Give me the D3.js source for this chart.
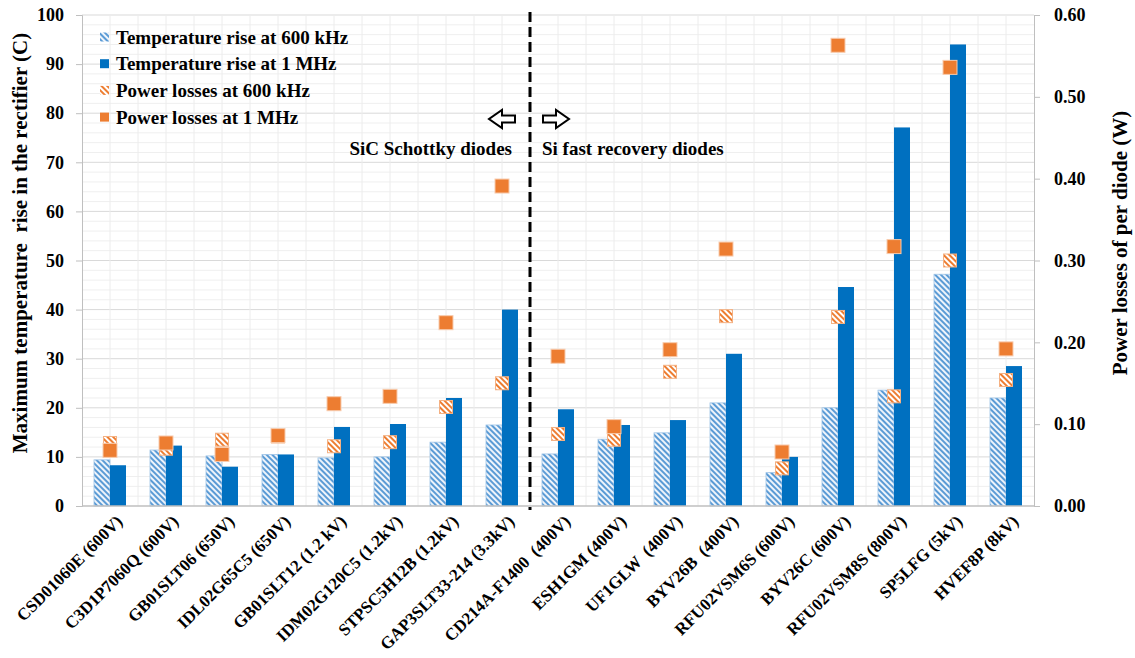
<!DOCTYPE html>
<html>
<head>
<meta charset="utf-8">
<script src="https://cdn.jsdelivr.net/npm/d3@7"></script>
<style>
  body { margin: 0; background: #fff; }
  text { font-family: "Times New Roman", "Liberation Serif", serif; font-weight: bold; fill: #000; }
</style>
</head>
<body>
<div id="chart"></div>
<script>
// data
const categories = ["CSD01060E (600V)", "C3D1P7060Q (600V)", "GB01SLT06 (650V)", "IDL02G65C5 (650V)",
    "GB01SLT12 (1.2 kV)", "IDM02G120C5 (1.2kV)", "STPSC5H12B (1.2kV)", "GAP3SLT33-214 (3.3kV)",
    "CD214A-F1400  (400V)", "ESH1GM (400V)", "UF1GLW  (400V)", "BYV26B  (400V)", "RFU02VSM6S (600V)",
    "BYV26C (600V)", "RFU02VSM8S (800V)", "SP5LFG (5kV)", "HVEF8P (8kV)"];
const temp600k = [9.4, 11.4, 10.2, 10.5, 9.8, 10.0, 13.0, 16.5, 10.6, 13.6, 14.9, 21.0, 6.8, 20.0, 23.6, 47.2, 22.0];
const temp1M = [8.3, 12.3, 8.0, 10.5, 16.1, 16.7, 22.0, 40.0, 19.7, 16.5, 17.5, 31.0, 10.0, 44.6, 77.1, 94.0, 28.5];
const loss600k = [0.077, 0.070, 0.081, 0.085, 0.073, 0.078, 0.121, 0.150, 0.088, 0.081, 0.164, 0.232, 0.046, 0.231, 0.134, 0.300, 0.154];
const loss1M = [0.068, 0.077, 0.063, 0.086, 0.125, 0.134, 0.224, 0.391, 0.183, 0.097, 0.191, 0.314, 0.066, 0.563, 0.317, 0.536, 0.192];
const leftTicks = [0, 10, 20, 30, 40, 50, 60, 70, 80, 90, 100];
const rightTicks = [0, 0.1, 0.2, 0.3, 0.4, 0.5, 0.6];
const legendLabels = ["Temperature rise at 600 kHz", "Temperature rise at 1 MHz", "Power losses at 600 kHz", "Power losses at 1 MHz"];

const width = 1135, height = 658;
const plotL = 82, plotR = 1034, plotT = 15, plotB = 506;
const blue = "#0070c0", orange = "#ed7d31";

const svg = d3.select("#chart").append("svg")
    .attr("width", width)
    .attr("height", height);

// hatch patterns (stripes running top-left to bottom-right)
const defs = svg.append("defs");
function hatch(id, bg, fg) {
    const p = defs.append("pattern")
        .attr("id", id)
        .attr("patternUnits", "userSpaceOnUse")
        .attr("width", 4).attr("height", 4)
        .attr("patternTransform", "rotate(45)");
    p.append("rect").attr("width", 4).attr("height", 4).attr("fill", bg);
    p.append("rect").attr("width", 4).attr("height", 2).attr("fill", fg);
}
hatch("hatchBlue", "#eef4fb", "#5b9bd5");
hatch("hatchOrange", "#ffffff", orange);

const x = d3.scaleBand().domain(categories).range([plotL, plotR]);
const xSub = d3.scaleBand().domain(["a", "b"]).range([0, x.bandwidth()]).paddingOuter(0.75);
const y = d3.scaleLinear().domain([0, 100]).range([plotB, plotT]);
const y2 = d3.scaleLinear().domain([0, 0.6]).range([plotB, plotT]);

// gridlines
const grid = svg.append("g");
grid.selectAll("line.h")
    .data(d3.range(2, 101, 2))
    .join("line")
    .attr("x1", plotL).attr("x2", plotR)
    .attr("y1", d => y(d)).attr("y2", d => y(d))
    .attr("stroke", d => d % 10 === 0 ? "#d9d9d9" : "#efefef")
    .attr("stroke-width", 1);
grid.selectAll("line.v")
    .data(d3.range(1, categories.length * 2))
    .join("line")
    .attr("x1", d => plotL + d * x.bandwidth() / 2).attr("x2", d => plotL + d * x.bandwidth() / 2)
    .attr("y1", plotT).attr("y2", plotB)
    .attr("stroke", "#ececec")
    .attr("stroke-width", 1);

// bars
const idx = d3.range(categories.length);
svg.append("g").selectAll("rect")
    .data(idx)
    .join("rect")
    .attr("x", i => x(categories[i]) + xSub("a"))
    .attr("y", i => y(temp600k[i]))
    .attr("width", xSub.bandwidth())
    .attr("height", i => plotB - y(temp600k[i]))
    .attr("fill", "url(#hatchBlue)")
    .attr("stroke", "#9dc3e6").attr("stroke-width", 0.8);

svg.append("g").selectAll("rect")
    .data(idx)
    .join("rect")
    .attr("x", i => x(categories[i]) + xSub("b"))
    .attr("y", i => y(temp1M[i]))
    .attr("width", xSub.bandwidth())
    .attr("height", i => plotB - y(temp1M[i]))
    .attr("fill", blue);

// axes
const axisL = svg.append("g")
    .attr("transform", `translate(${plotL},0)`)
    .call(d3.axisLeft(y).tickValues(leftTicks).tickSize(6).tickPadding(12));
const axisR = svg.append("g")
    .attr("transform", `translate(${plotR},0)`)
    .call(d3.axisRight(y2).tickValues(rightTicks).tickSize(6).tickPadding(14).tickFormat(d3.format(".2f")));
[axisL, axisR].forEach(a => {
    a.selectAll("path, line").attr("stroke", "#bfbfbf");
    a.selectAll("text").style("font-size", "18px").attr("font-family", null);
});

svg.append("line")
    .attr("x1", plotL).attr("x2", plotR)
    .attr("y1", plotB).attr("y2", plotB)
    .attr("stroke", "#bfbfbf").attr("stroke-width", 1.5);

// power loss markers
const sq600 = 13, sq1M = 14;
svg.append("g").selectAll("rect")
    .data(idx)
    .join("rect")
    .attr("x", i => x(categories[i]) + x.bandwidth() / 2 - sq600 / 2)
    .attr("y", i => y2(loss600k[i]) - sq600 / 2)
    .attr("width", sq600).attr("height", sq600)
    .attr("fill", "url(#hatchOrange)")
    .attr("stroke", "#f4b183").attr("stroke-width", 1);

svg.append("g").selectAll("rect")
    .data(idx)
    .join("rect")
    .attr("x", i => x(categories[i]) + x.bandwidth() / 2 - sq1M / 2)
    .attr("y", i => y2(loss1M[i]) - sq1M / 2)
    .attr("width", sq1M).attr("height", sq1M)
    .attr("fill", orange)
    .attr("stroke", "#f8cbad").attr("stroke-width", 1);

// category labels
svg.append("g").selectAll("text")
    .data(categories)
    .join("text")
    .attr("transform", d => `translate(${x(d) + x.bandwidth() / 2 + 5},${plotB + 8}) rotate(-45)`)
    .attr("text-anchor", "end")
    .attr("dy", "0.7em")
    .style("font-size", "17px")
    .style("white-space", "pre")
    .text(d => d);

// divider between SiC and Si
const divX = x(categories[8]);
svg.append("line")
    .attr("x1", divX).attr("x2", divX)
    .attr("y1", 12).attr("y2", plotB + 4)
    .attr("stroke", "#000").attr("stroke-width", 3)
    .attr("stroke-dasharray", "10,5");

// block arrows
function arrow(cx, cy, dir) {
    const pts = [[-13, -3.5], [0, -3.5], [0, -9], [13, 0], [0, 9], [0, 3.5], [-13, 3.5]];
    svg.append("polygon")
        .attr("points", pts.map(p => [cx + dir * p[0], cy + p[1]].join(",")).join(" "))
        .attr("fill", "#fff").attr("stroke", "#000").attr("stroke-width", 2);
}
arrow(502, 119, -1);
arrow(556, 119, 1);

svg.append("text")
    .attr("x", 512).attr("y", 155)
    .attr("text-anchor", "end")
    .style("font-size", "19px")
    .text("SiC Schottky diodes");
svg.append("text")
    .attr("x", 542).attr("y", 155)
    .style("font-size", "19px")
    .text("Si fast recovery diodes");

// legend
const legend = svg.append("g");
const legendFills = ["url(#hatchBlue)", blue, "url(#hatchOrange)", orange];
legendLabels.forEach((lab, i) => {
    const ly = 37 + i * 26.7;
    legend.append("rect")
        .attr("x", 100).attr("y", ly - 4.5)
        .attr("width", 9).attr("height", 9)
        .attr("fill", legendFills[i]);
    legend.append("text")
        .attr("x", 116).attr("y", ly)
        .attr("dy", "0.35em")
        .style("font-size", "19px")
        .text(lab);
});

// axis titles
svg.append("text")
    .attr("transform", "translate(27,243) rotate(-90)")
    .attr("text-anchor", "middle")
    .style("font-size", "21px")
    .style("white-space", "pre")
    .text("Maximum temperature  rise in the rectifier (C)");
svg.append("text")
    .attr("transform", "translate(1127,243) rotate(-90)")
    .attr("text-anchor", "middle")
    .style("font-size", "21px")
    .text("Power losses of per diode (W)");
</script>
</body>
</html>
